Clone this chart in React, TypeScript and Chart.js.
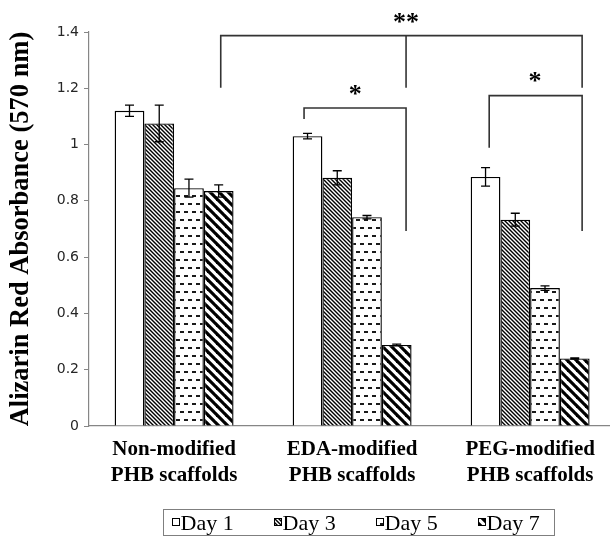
import { useEffect, useRef } from "react";
import { Chart, registerables } from "chart.js";

Chart.register(...registerables);

// ---------- data ----------
const groupLabels = [
  ["Non-modified", "PHB scaffolds"],
  ["EDA-modified", "PHB scaffolds"],
  ["PEG-modified", "PHB scaffolds"],
];
const seriesNames = ["Day 1", "Day 3", "Day 5", "Day 7"];

const day1 = [1.12, 1.03, 0.885];
const day3 = [1.075, 0.882, 0.733];
const day5 = [0.845, 0.742, 0.49];
const day7 = [0.835, 0.288, 0.24];

const day1Err = [0.02, 0.01, 0.033];
const day3Err = [0.065, 0.025, 0.023];
const day5Err = [0.032, 0.006, 0.008];
const day7Err = [0.022, 0.003, 0.002];

const yMin = 0;
const yMax = 1.4;
const yStep = 0.2;
const yTitle = "Alizarin Red Absorbance (570 nm)";

// x range in group-index units (group centres at 0, 1, 2)
const xMin = -0.478;
const xMax = 2.516;

// significance brackets: points as [group position, absorbance]
const bracketPaths = [
  [[0.262, 1.202], [0.262, 1.387], [2.292, 1.387], [2.292, 1.202]],
  [[1.303, 1.387], [1.303, 1.202]],
  [[0.73, 1.091], [0.73, 1.13], [1.303, 1.13], [1.303, 0.693]],
  [[1.77, 0.989], [1.77, 1.174], [2.292, 1.174], [2.292, 0.693]],
];
const starMarks = [
  { x: 1.303, y: 1.43, text: "**" },
  { x: 1.017, y: 1.175, text: "*" },
  { x: 2.028, y: 1.222, text: "*" },
];

const valuesList = [day1, day3, day5, day7];
const errorsList = [day1Err, day3Err, day5Err, day7Err];

// ---------- patterns ----------
function diagPattern(size: number, width: number) {
  const c = document.createElement("canvas");
  c.width = size;
  c.height = size;
  const g = c.getContext("2d")!;
  g.fillStyle = "#fff";
  g.fillRect(0, 0, size, size);
  g.strokeStyle = "#000";
  g.lineWidth = width;
  for (const k of [-size, 0, size]) {
    g.beginPath();
    g.moveTo(-size, -size + k);
    g.lineTo(2 * size, 2 * size + k);
    g.stroke();
  }
  return g.createPattern(c, "repeat")!;
}

function dashPattern() {
  const c = document.createElement("canvas");
  c.width = 8;
  c.height = 16;
  const g = c.getContext("2d")!;
  g.fillStyle = "#fff";
  g.fillRect(0, 0, 8, 16);
  g.fillStyle = "#1a1a1a";
  g.fillRect(0, 3, 4, 2);
  g.fillRect(4, 11, 4, 2);
  return g.createPattern(c, "repeat")!;
}

// ---------- plugins ----------
const errorBarPlugin = {
  id: "errorBars",
  afterDatasetsDraw(chart: any) {
    const ctx = chart.ctx;
    const ys = chart.scales.y;
    ctx.save();
    ctx.strokeStyle = "#000";
    ctx.lineWidth = 1.3;
    chart.data.datasets.forEach((ds: any, i: number) => {
      const meta = chart.getDatasetMeta(i);
      meta.data.forEach((bar: any, j: number) => {
        const v = ds.data[j].y;
        const e = ds.errors[j];
        const top = ys.getPixelForValue(v + e);
        const bot = ys.getPixelForValue(v - e);
        const x = bar.x;
        ctx.beginPath();
        ctx.moveTo(x, top);
        ctx.lineTo(x, bot);
        ctx.moveTo(x - 4.5, top);
        ctx.lineTo(x + 4.5, top);
        ctx.moveTo(x - 4.5, bot);
        ctx.lineTo(x + 4.5, bot);
        ctx.stroke();
      });
    });
    ctx.restore();
  },
};

const bracketPlugin = {
  id: "brackets",
  afterDraw(chart: any) {
    const ctx = chart.ctx;
    const xs = chart.scales.x;
    const ys = chart.scales.y;
    ctx.save();
    ctx.strokeStyle = "#333333";
    ctx.lineWidth = 1.6;
    bracketPaths.forEach((path) => {
      ctx.beginPath();
      path.forEach(([cx, cy], k) => {
        const px = xs.getPixelForValue(cx);
        const py = ys.getPixelForValue(cy);
        if (k === 0) ctx.moveTo(px, py);
        else ctx.lineTo(px, py);
      });
      ctx.stroke();
    });
    ctx.fillStyle = "#000";
    ctx.font = 'bold 26px "Liberation Serif"';
    ctx.textAlign = "center";
    ctx.textBaseline = "middle";
    starMarks.forEach((s) => {
      ctx.fillText(s.text, xs.getPixelForValue(s.x), ys.getPixelForValue(s.y));
    });
    ctx.restore();
  },
};

const boxLegendPlugin = {
  id: "boxLegend",
  afterDraw(chart: any, _args: any, opts: any) {
    const ctx = chart.ctx;
    ctx.save();
    ctx.strokeStyle = "#7f7f7f";
    ctx.lineWidth = 1;
    ctx.strokeRect(opts.left + 0.5, opts.top + 0.5, opts.width, opts.height);
    ctx.font = '22px "Liberation Serif"';
    ctx.textBaseline = "alphabetic";
    ctx.textAlign = "left";
    chart.data.datasets.forEach((ds: any, i: number) => {
      const x = opts.left + opts.firstOffset + i * opts.spacing;
      ctx.fillStyle = ds.backgroundColor;
      ctx.fillRect(x, opts.iconTop, 8, 8);
      ctx.strokeStyle = "#000";
      ctx.strokeRect(x + 0.5, opts.iconTop + 0.5, 7, 7);
      ctx.fillStyle = "#000";
      ctx.fillText(ds.label, x + 8.5, opts.baseline);
    });
    ctx.restore();
  },
};

export default function App() {
  const ref = useRef<HTMLCanvasElement | null>(null);

  useEffect(() => {
    const canvas = ref.current!;
    const fills = [
      "#ffffff",
      diagPattern(4, 1.4),
      dashPattern(),
      diagPattern(9, 3.2),
    ];
    const chart = new Chart(canvas, {
      type: "bar",
      data: {
        datasets: seriesNames.map((name, i) => ({
          label: name,
          data: valuesList[i].map((v, j) => ({ x: j, y: v })),
          errors: errorsList[i],
          backgroundColor: fills[i],
          borderColor: "#000",
          borderWidth: 1.4,
          categoryPercentage: 0.668,
          barPercentage: 1,
        })) as any,
      },
      options: {
        responsive: false,
        animation: false,
        devicePixelRatio: 1,
        layout: { padding: { top: 32, left: 0, right: 0, bottom: 50 } },
        plugins: {
          legend: { display: false },
          tooltip: { enabled: false },
          boxLegend: {
            left: 163,
            top: 509,
            width: 391,
            height: 26,
            firstOffset: 9,
            spacing: 102,
            iconTop: 518,
            baseline: 530,
          },
        } as any,
        scales: {
          x: {
            type: "linear",
            min: xMin,
            max: xMax,
            offset: false,
            bounds: "ticks",
            afterFit: (axis: any) => {
              axis.height = 60;
            },
            grid: { display: false, offset: false },
            border: { display: true, color: "#868686", width: 1.2 },
            ticks: {
              stepSize: 1,
              includeBounds: false,
              color: "#000",
              padding: 2,
              maxRotation: 0,
              autoSkip: false,
              font: { family: '"Liberation Serif"', size: 21, weight: "bold", lineHeight: 1.25 },
              callback: (v: any) => groupLabels[Math.round(Number(v))] ?? "",
            },
          },
          y: {
            min: yMin,
            max: yMax,
            afterFit: (axis: any) => {
              axis.width = 89;
            },
            grid: {
              drawOnChartArea: false,
              drawTicks: true,
              tickLength: 5,
              color: "#868686",
            },
            border: { display: true, color: "#868686", width: 1.2 },
            ticks: {
              stepSize: yStep,
              color: "#262626",
              padding: 5,
              font: { family: '"DejaVu Sans"', size: 14 },
              callback: (v: any) => String(Number(Number(v).toFixed(1))),
            },
            title: {
              display: true,
              text: yTitle,
              color: "#000",
              padding: { top: 5, bottom: 0 },
              font: { family: '"Liberation Serif"', size: 26.5, weight: "bold" },
            },
          },
        },
      },
      plugins: [errorBarPlugin, bracketPlugin, boxLegendPlugin],
    });
    return () => chart.destroy();
  }, []);

  return (
    <div
      style={{
        position: "fixed",
        left: 0,
        top: 0,
        width: 610,
        height: 536,
        overflow: "hidden",
        background: "#fff",
      }}
    >
      <canvas ref={ref} width={622} height={536} style={{ display: "block" }} />
    </div>
  );
}
